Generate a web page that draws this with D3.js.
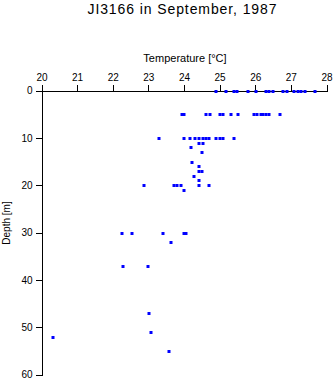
<!DOCTYPE html>
<html><head><meta charset="utf-8">
<script src="https://cdn.jsdelivr.net/npm/d3@7"></script>
<style>body{margin:0;background:#fff}svg{display:block}text{font-family:"Liberation Sans",Arial,sans-serif;fill:#000}</style>
</head><body><svg id="c" width="335" height="384"></svg>
<script>
const title = "JI3166 in September, 1987";
const xLabel = "Temperature [°C]";
const yLabel = "Depth [m]";
const xTicks = [20,21,22,23,24,25,26,27,28];
const yTicks = [0,10,20,30,40,50,60];
const depth = [
  0,0,0,0,0,0,0,0,0,0,0,0,0,0,0,0,
  5,5,5,5,5,5,5,5,5,5,5,5,5,5,5,
  10,10,10,10,10,10,10,10,10,10,10,10,
  11,11,12,13,15,16,17,17,18,19,
  20,20,20,20,20,20,21,
  30,30,30,30,30,32,37,37,47,51,52,55
];
const temperature = [
  24.90,25.19,25.39,25.49,25.80,26.01,26.30,26.40,26.49,26.79,26.90,27.09,27.20,27.29,27.39,27.69,
  23.93,24.00,24.63,24.72,25.00,25.10,25.31,25.51,25.97,26.05,26.15,26.22,26.30,26.40,26.69,
  23.30,23.99,24.18,24.30,24.43,24.52,24.61,24.70,24.90,25.00,25.10,25.39,
  24.43,24.52,24.20,24.50,24.22,24.41,24.41,24.50,24.29,24.41,
  22.89,23.71,23.80,23.91,24.41,24.69,24.00,
  22.27,22.53,23.40,24.00,24.06,23.64,22.30,23.00,23.02,23.07,20.31,23.57
];

const svg = d3.select("#c");
const x = d3.scaleLinear().domain([20,28]).range([41.5,326.5]);
const y = d3.scaleLinear().domain([0,60]).range([90.5,374.5]);

svg.append("text").attr("x",182).attr("y",14).attr("text-anchor","middle")
  .attr("font-size","14px").attr("textLength",189).attr("lengthAdjust","spacing").text(title);

svg.append("text").attr("x",185).attr("y",62).attr("text-anchor","middle")
  .attr("font-size","11px").text(xLabel);

svg.append("text").attr("transform","translate(10,223) rotate(-90)").attr("text-anchor","middle")
  .attr("font-size","10px").text(yLabel);

const gx = svg.append("g").attr("transform","translate(0,90.5)")
  .call(d3.axisTop(x).tickValues(xTicks).tickFormat(d3.format("d")).tickSize(6).tickPadding(4));
const gy = svg.append("g").attr("transform","translate(41.5,0)")
  .call(d3.axisLeft(y).tickValues(yTicks).tickFormat(d3.format("d")).tickSize(6).tickPadding(3));
[gx,gy].forEach(g=>{
  g.selectAll("text").attr("font-size","10px").attr("font-family","Liberation Sans, Arial, sans-serif").attr("fill","#000");
  g.selectAll("path,line").attr("stroke","#000").attr("shape-rendering","crispEdges");
});

svg.append("g").selectAll("rect").data(depth.map((d,i)=>({d, t:temperature[i]})))
  .join("rect")
  .attr("x",p=>Math.round(x(p.t))-1.5).attr("y",p=>Math.round(y(p.d))-1)
  .attr("width",3).attr("height",3).attr("fill","#0000ff");
</script></body></html>
